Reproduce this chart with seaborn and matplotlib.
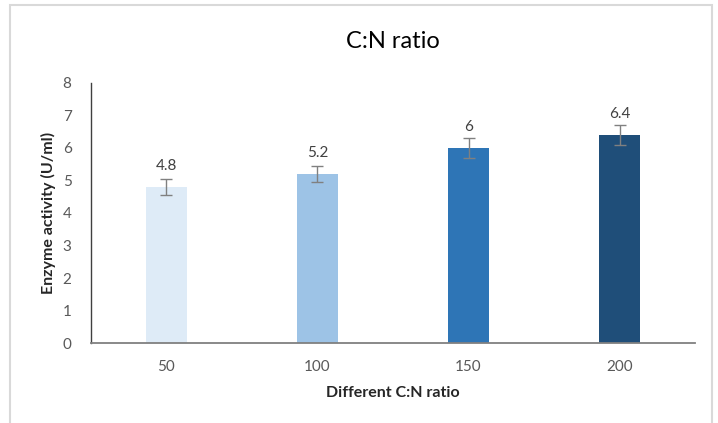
import matplotlib
matplotlib.use("Agg")
import matplotlib.pyplot as plt
from matplotlib.patches import Rectangle
import seaborn as sns
import pandas as pd

# ----------------------------------------
# Data
# ----------------------------------------
ratios = ["50", "100", "150", "200"]
activity = [4.8, 5.2, 6.0, 6.4]
errors = [0.24, 0.26, 0.30, 0.32]
bar_colors = ["#DEEBF7", "#9DC3E6", "#2E75B6", "#1F4E79"]

df = pd.DataFrame({"ratio": ratios, "activity": activity})

# ----------------------------------------
# Plot
# ----------------------------------------
sns.set_style("white")
plt.rcParams["font.family"] = ["Lato", "DejaVu Sans"]

fig = plt.figure(figsize=(7.18, 4.23), dpi=100)
ax = fig.add_axes([0.1267, 0.189, 0.8413, 0.615])

sns.barplot(data=df, x="ratio", y="activity", hue="ratio", palette=bar_colors,
            legend=False, width=0.27, saturation=1, ax=ax, edgecolor="none")

ax.errorbar(range(len(ratios)), activity, yerr=errors, fmt="none",
            ecolor="#808080", elinewidth=1, capsize=4.5, capthick=1)

for i, v in enumerate(activity):
    ax.annotate(f"{v:g}", (i, v), xytext=(0, 10), textcoords="offset points",
                ha="center", va="bottom", fontsize=11, color="#404040")

ax.set_ylim(0, 8)
ax.set_xlim(-0.5, 3.5)
ax.set_yticks(range(0, 9))
ax.tick_params(axis="both", length=0, labelsize=11, labelcolor="#595959")
ax.tick_params(axis="y", pad=14)
ax.tick_params(axis="x", pad=12)

for s in ["top", "right"]:
    ax.spines[s].set_visible(False)
ax.spines["left"].set_color("#404040")
ax.spines["bottom"].set_color("#808080")
ax.spines["left"].set_linewidth(1)
ax.spines["bottom"].set_linewidth(1.3)

ax.set_title("C:N ratio", fontsize=17, color="#000000", pad=25)
ax.set_xlabel("Different C:N ratio", fontsize=11.5, fontweight="bold", labelpad=9)
ax.set_ylabel("Enzyme activity (U/ml)", fontsize=11.5, fontweight="bold", labelpad=5)

# chart frame
fig.add_artist(Rectangle((10 / 718, -0.05), 702 / 718, 1.05 - 5 / 423,
                         transform=fig.transFigure, fill=False,
                         edgecolor="#D9D9D9", linewidth=1.5))

fig.savefig("out.png", dpi=100)
plt.close(fig)
